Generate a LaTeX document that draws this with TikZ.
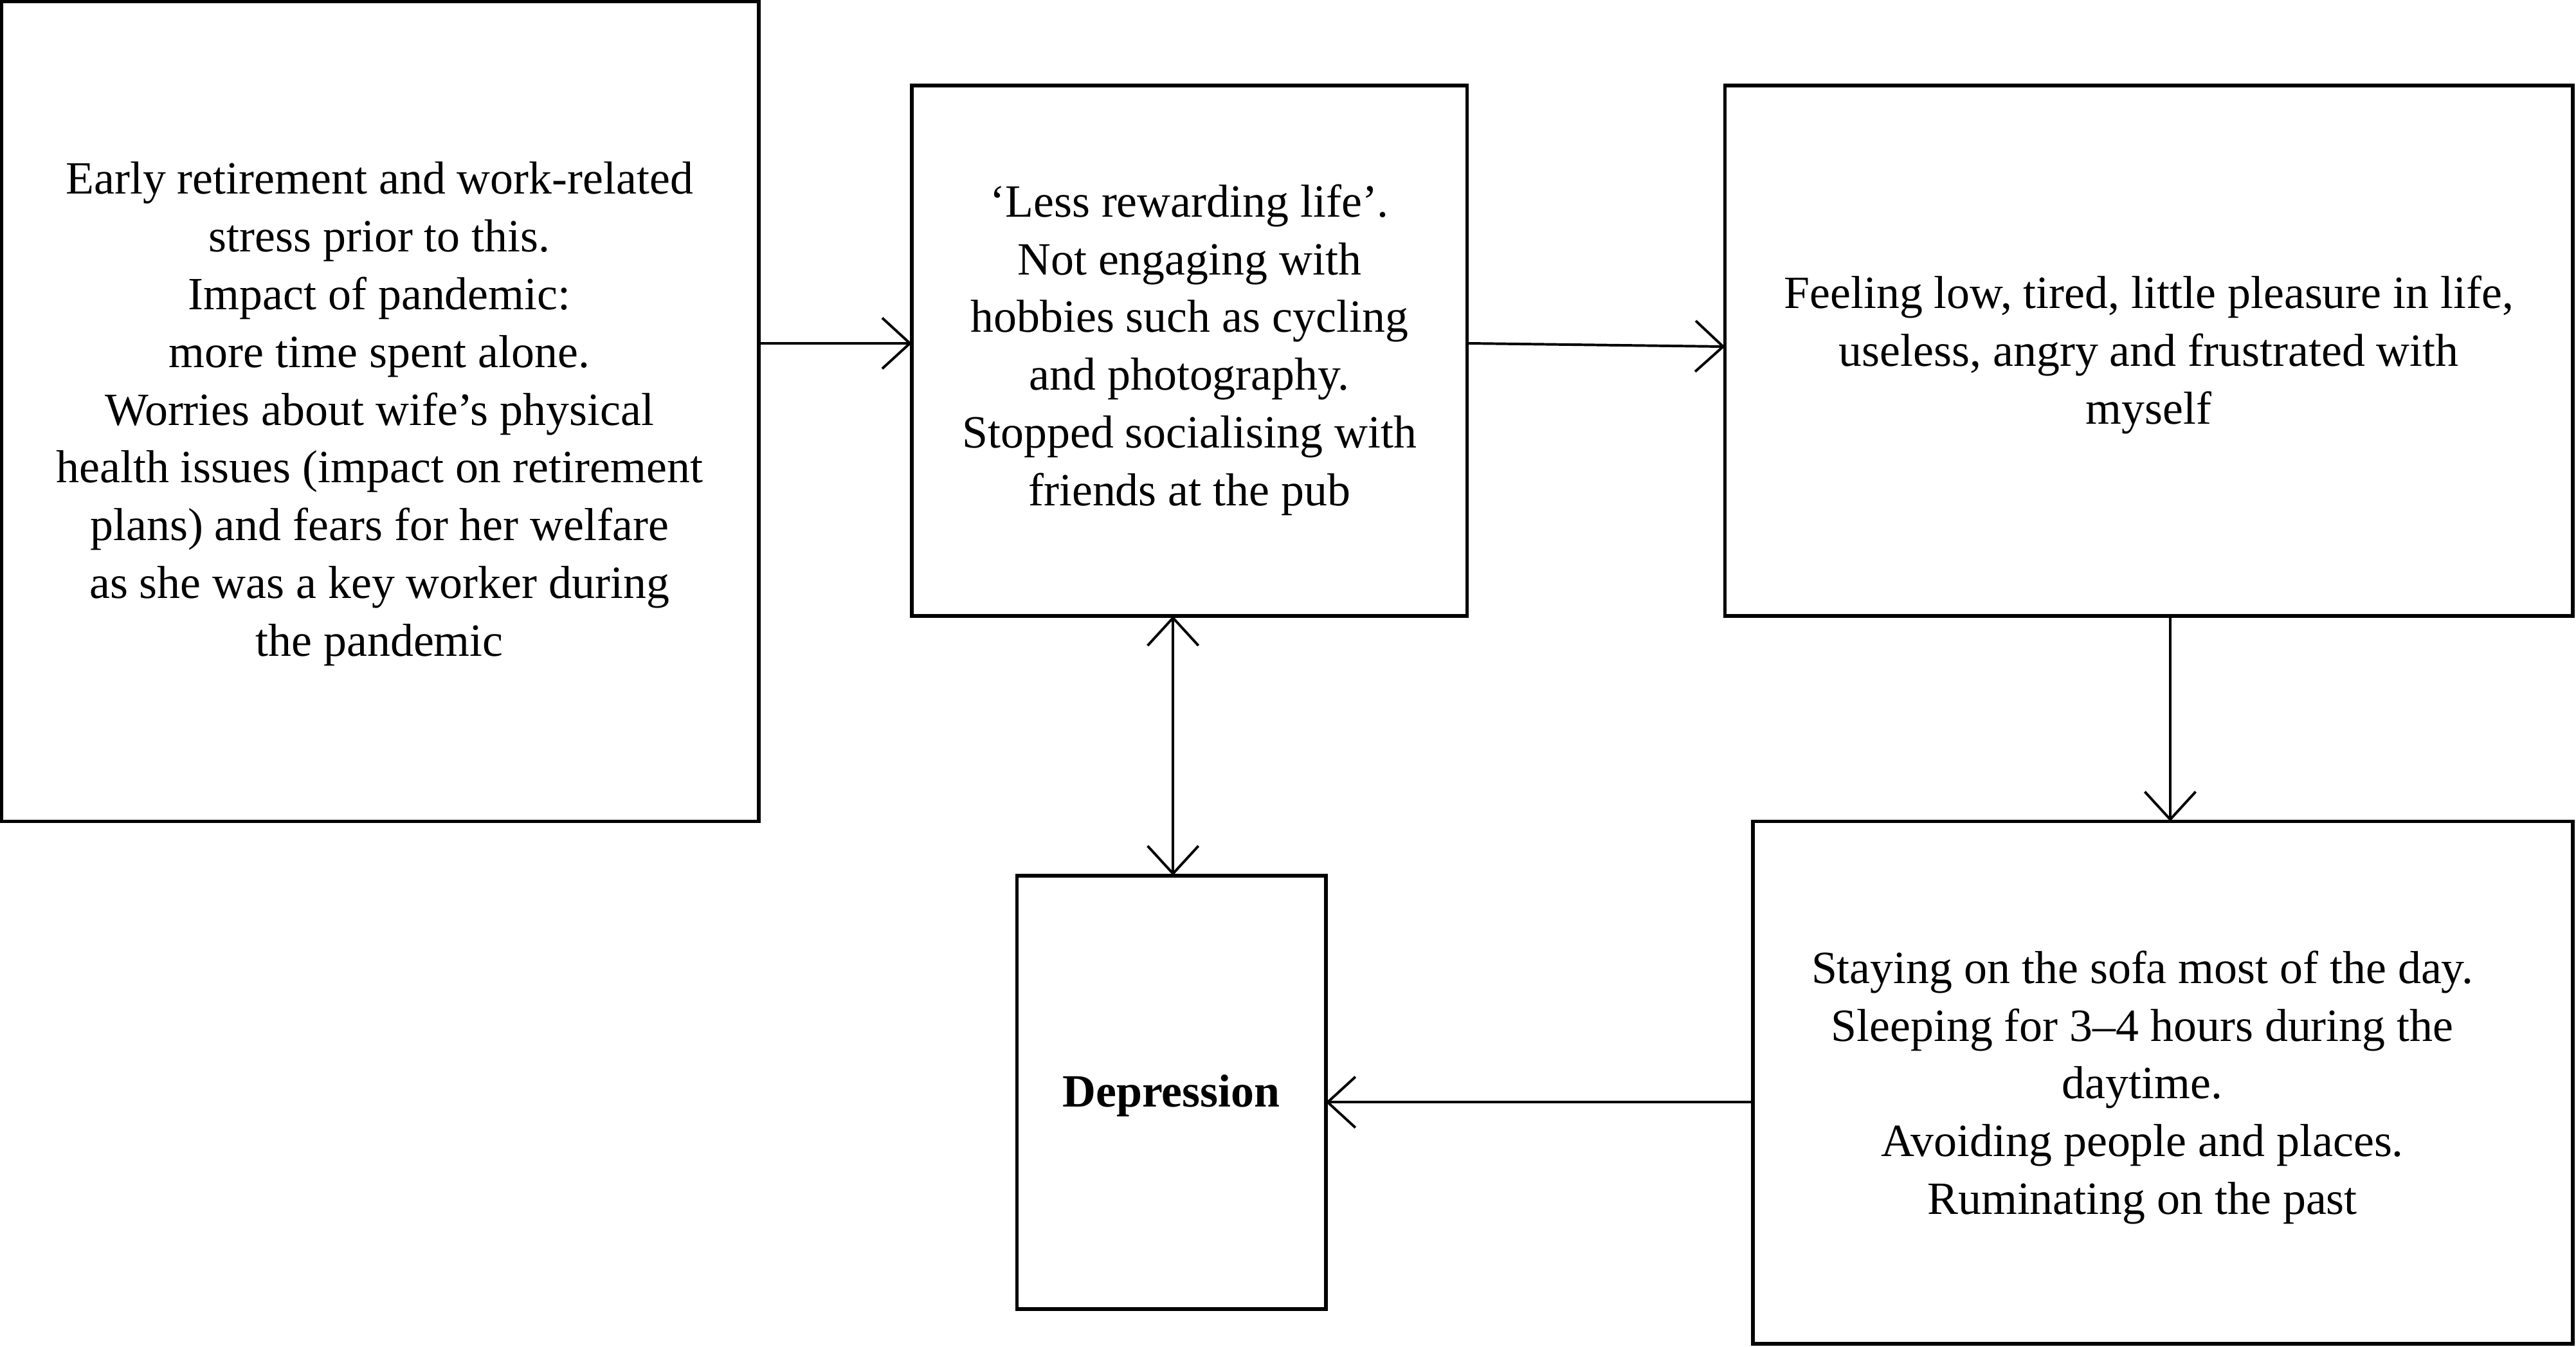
\documentclass[tikz,border=0pt]{standalone}
\usepackage{fontspec}
\setmainfont{Liberation Serif}
\usetikzlibrary{arrows.meta}
\begin{document}
\begin{tikzpicture}[x=0.025cm,y=-0.025cm,
  box/.style={draw,line width=1.6pt,inner sep=0pt},
  txt/.style={align=center,font=\fontsize{20}{25}\selectfont},
  arr/.style={line width=1.1pt,-{Straight Barb[length=12pt,width=22pt,line width=1.1pt]}},
  arr2/.style={line width=1.1pt,{Straight Barb[length=12pt,width=22pt,line width=1.1pt]}-{Straight Barb[length=12pt,width=22pt,line width=1.1pt]}}]
\useasboundingbox (0,0) rectangle (1568,820);
\draw[box] (1,1) rectangle (462,500);
\draw[box] (555,52) rectangle (893,375);
\draw[box] (1050,52) rectangle (1566,375);
\draw[box] (619,533) rectangle (807,797);
\draw[box] (1067,500) rectangle (1566,818);
\node[txt] (a) at (231,252) {Early retirement and work-related\\stress prior to this.\\Impact of pandemic:\\more time spent alone.\\Worries about wife’s physical\\health issues (impact on retirement\\plans) and fears for her welfare\\as she was a key worker during\\the pandemic};
\node[txt] (b) at (724,213) {‘Less rewarding life’.\\Not engaging with\\hobbies such as cycling\\and photography.\\Stopped socialising with\\friends at the pub};
\node[txt] (c) at (1308,216) {Feeling low, tired, little pleasure in life,\\useless, angry and frustrated with\\myself};
\node[txt] (e) at (1304,662) {Staying on the sofa most of the day.\\Sleeping for 3–4 hours during the\\daytime.\\Avoiding people and places.\\Ruminating on the past};
\node[txt,font=\fontsize{20}{25}\selectfont\bfseries] (d) at (713,667) {Depression};
\coordinate (a1) at (462,209); \coordinate (b1) at (555,209);
\coordinate (b2) at (893,209); \coordinate (c1) at (1050,211);
\coordinate (c2) at (1321,375); \coordinate (e1) at (1321,500);
\coordinate (e2) at (1067,671); \coordinate (d1) at (807,671);
\coordinate (b3) at (714,375); \coordinate (d2) at (714,533);
\draw[arr] (a1) -- (b1);
\draw[arr] (b2) -- (c1);
\draw[arr] (c2) -- (e1);
\draw[arr] (e2) -- (d1);
\draw[arr2] (b3) -- (d2);
\end{tikzpicture}
\end{document}
